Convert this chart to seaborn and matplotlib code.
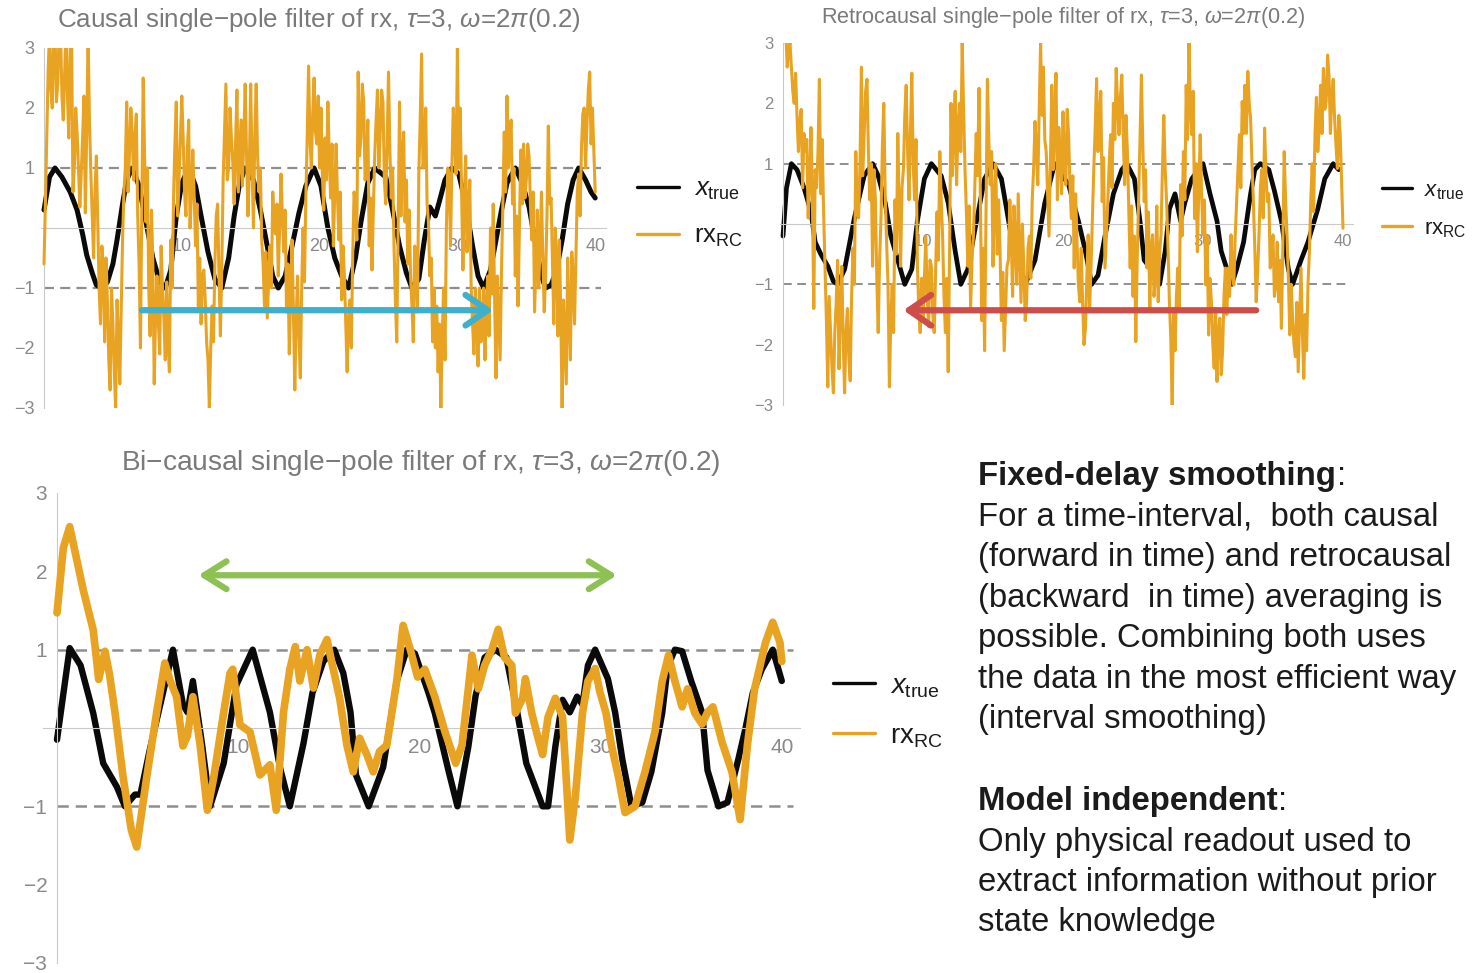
import numpy as np
import matplotlib
matplotlib.use("Agg")
import matplotlib.pyplot as plt
import seaborn as sns
from matplotlib.lines import Line2D

sns.set_theme(style="white")
plt.rcParams["font.family"] = ["Liberation Sans", "DejaVu Sans"]
plt.rcParams["mathtext.fontset"] = "custom"
plt.rcParams["mathtext.rm"] = "Liberation Sans"
plt.rcParams["mathtext.it"] = "Liberation Sans:italic"
plt.rcParams["mathtext.bf"] = "Liberation Sans:bold"
plt.rcParams["axes.unicode_minus"] = True

# ---------------------------------------------------------------- data
# common sample times of the noisy filtered readouts (step 0.1)
t_grid = np.round(np.arange(0, 40.001, 0.1), 1)

# causal single-pole filter of the readout
causal_rx = [
    -0.6, 0.4, 1.5, 2.6, 3.3, 2.3, 2.0, 3.3, 3.3, 2.1, 2.4, 3.3, 3.3, 2.2, 1.8, 2.6, 3.3, 2.2, 1.5, 3.0,
    3.3, 0.6, 1.0, 2.0, 1.6, 1.0, 0.35, 0.9, 1.5, 2.2, 0.25, 1.6, 3.2, 1.8, 0.9, 0.2, -0.5, 0.6, 1.2, 0.1,
    -1.0, -1.6, -0.3, -0.6, -1.9, -0.5, -1.2, -2.2, -2.7, -1.0, -1.6, -2.4, -3.0, -1.2, -1.8, -2.6, -1.4, -0.2, 0.6, 1.0,
    2.1, 0.6, 1.2, 2.0, 1.6, 0.8, 1.5, 1.9, 0.2, -0.6, -2.0, 0.4, 2.5, 1.2, 0.1, 1.0, -1.0, -1.8, 0.3, -0.6,
    -2.6, -1.4, -0.8, -1.6, -2.1, -0.3, -1.0, -1.5, -2.2, -0.9, -1.9, -2.4, -0.2, -1.0, 0.5, 1.4, 2.1, 0.2, 0.8, 1.5,
    2.2, 1.5, 0.6, 0.2, 1.3, 1.8, 0.0, 0.6, 1.3, 0.5, -0.3, 0.4, -1.3, -0.5, -1.6, -0.8, -0.7, -1.2, -1.9, -2.2,
    -3.0, -2.0, -1.3, -1.9, -0.6, 0.2, 0.4, -0.8, -1.8, -0.7, 0.8, 1.6, 2.4, 0.8, 1.0, 2.0, 1.5, 1.1, 0.4, 1.4,
    2.3, 0.6, 1.2, 1.8, 0.7, 1.5, 2.4, 1.2, 0.2, 1.0, 2.4, 1.0, 0.0, 1.6, 2.4, 1.2, 0.6, 1.0, -0.2, -0.6,
    -1.3, -0.4, -1.5, -0.9, -0.3, -1.0, 0.6, 0.1, -0.1, 0.4, -0.8, 0.0, 0.9, 0.2, -0.4, 0.3, -1.4, -0.6, -2.1, -1.1,
    -0.2, -1.4, -2.7, -1.5, -0.8, -1.8, -2.5, -1.0, 0.0, -0.9, 0.5, 1.5, 2.7, 1.5, 1.0, 1.9, 2.5, 1.6, 1.4, 2.2,
    1.0, 2.0, 0.9, 0.3, 1.5, 0.8, 2.1, 1.2, 0.5, 1.4, -0.3, 0.6, 1.4, 0.5, -0.2, 0.6, -1.2, -0.3, -0.8, -1.6,
    -2.4, -1.5, -1.2, -2.0, -0.5, 0.6, 0.4, -0.2, 2.6, 1.2, 1.5, 2.4, 2.1, 0.8, 1.0, 1.8, -0.3, 0.5, -0.7, 0.3,
    1.2, 1.8, 2.3, 1.0, 1.6, 2.3, 2.1, 0.8, 0.4, 1.4, 2.6, 1.3, 0.5, 1.0, -0.3, -1.2, -1.9, 0.0, 2.1, 0.2,
    1.2, 1.6, 0.1, 0.8, -0.6, 0.3, -0.8, -1.3, -1.9, -0.3, -0.5, -1.4, 0.9, 1.8, 2.9, 1.0, 1.2, 2.0, 0.4, 0.1,
    -0.8, -0.5, -1.9, -1.0, -2.0, -1.3, -2.4, -1.6, -3.0, -1.8, -1.0, -2.2, 0.0, 1.0, 0.9, -0.3, 1.0, 2.0, 1.5, 0.9,
    3.0, 1.0, 2.0, 0.6, -0.7, 0.5, 1.2, -0.4, 0.3, 0.8, -1.0, -1.6, -2.1, -1.0, -1.6, -2.3, -1.0, -1.9, -1.8, -1.0,
    -2.2, -1.3, -0.8, -1.8, 0.0, -1.1, 0.4, -1.2, -2.5, -0.8, -1.5, -2.2, -0.7, 0.4, 1.6, 0.6, 2.2, 1.0, 1.5, 1.8,
    0.4, 1.0, -0.8, 0.2, -1.3, 0.0, 1.3, 0.4, 1.4, 0.5, 0.8, 1.4, 1.2, 0.4, -0.2, 0.6, -1.4, -0.6, 0.3, -1.0,
    -0.3, 0.6, -0.5, -1.4, -0.8, 0.2, 1.7, 0.4, 0.5, -0.6, -1.6, 0.0, -0.5, -1.8, -0.2, -1.4, -3.0, -1.2, -1.9, -2.6,
    -0.5, -1.5, -2.2, -0.4, -0.8, -1.6, -0.5, 0.6, 0.9, 0.2, 1.3, 1.9, 2.0, 1.0, 1.7, 2.3, 2.6, 1.4, 2.0, 1.3,
    0.6,
]
causal_true_t = [0.0, 0.4, 0.8, 1.3, 1.9, 2.4, 2.8, 3.1, 3.5, 3.8, 4.2, 4.6, 5.0, 5.3,
                 5.7, 6.0, 6.4, 6.9, 7.4, 7.9, 8.4, 8.8, 9.2, 9.6, 10.0, 10.5, 11.0,
                 11.4, 11.9, 12.4, 12.9, 13.4, 13.8, 14.2, 14.6, 15.2, 15.7, 16.2,
                 16.6, 17.0, 17.5, 18.0, 18.5, 19.0, 19.6, 20.1, 20.6, 21.1, 21.6,
                 22.1, 22.6, 23.0, 23.5, 24.0, 24.8, 25.3, 25.8, 26.3, 26.7, 27.2,
                 27.6, 28.0, 28.4, 28.7, 29.1, 29.6, 30.1, 30.6, 31.1, 31.5, 31.9,
                 32.4, 32.8, 33.2, 33.6, 34.2, 34.7, 35.2, 35.7, 36.1, 36.4, 36.8,
                 37.2, 37.6, 38.0, 38.4, 38.8, 39.3, 39.7, 40.0]
causal_true_x = [0.3, 0.85, 1.0, 0.85, 0.6, 0.3, -0.1, -0.45, -0.75, -0.95, -1.0, -0.9,
                 -0.6, -0.2, 0.4, 0.8, 1.0, 0.7, 0.1, -0.5, -0.9, -1.0, -0.7, 0.2, 0.75,
                 1.0, 0.7, 0.2, -0.4, -0.85, -1.0, -0.5, 0.2, 0.75, 1.0, 0.8, 0.3, -0.3,
                 -0.8, -1.0, -0.8, -0.3, 0.25, 0.7, 1.0, 0.7, 0.0, -0.5, -0.8, -1.0,
                 -0.5, 0.1, 0.75, 1.0, 0.85, 0.3, -0.3, -0.75, -1.0, -0.85, -0.2, 0.35,
                 0.2, 0.45, 0.8, 1.0, 0.9, 0.4, -0.3, -0.8, -1.0, -0.7, -0.2, 0.3, 0.75,
                 1.0, 0.75, 0.35, -0.3, -0.8, -1.0, -0.95, -0.7, -0.2, 0.4, 0.8, 1.0,
                 0.8, 0.6, 0.5]

# retrocausal single-pole filter of the readout
retro_rx = [
    3.2, 3.3, 3.2, 2.6, 2.9, 3.0, 2.6, 2.2, 2.0, 2.5, 1.8, 1.2, 1.7, 1.9, 0.6, 1.5, 1.2, 1.4, 0.1, 0.7,
    1.6, 0.4, -1.4, 0.9, 0.6, 1.2, 2.4, 0.5, 1.4, 0.2, -0.7, -1.6, -2.7, -1.2, -1.8, -2.4, -2.8, -1.8, -1.3, -0.6,
    -2.4, -1.5, -0.7, -1.9, -2.8, -1.8, -1.4, -2.2, -2.6, -1.2, -0.4, -1.0, 1.2, 0.2, 0.1, 1.0, 2.6, 0.8, 1.5, 2.2,
    2.4, 1.2, 0.4, 1.0, -0.7, 0.9, 0.4, -0.9, -1.8, -0.6, 0.1, 1.3, 2.0, 0.5, -0.3, -1.0, -2.7, -1.6, -1.0, -1.8,
    0.4, -0.5, 1.5, 0.3, -0.7, 0.6, 0.9, 1.8, 2.3, 1.2, 0.4, 1.5, 2.5, 1.0, 0.4, 1.4, -0.7, -1.4, -1.8, -0.9,
    -1.6, -0.9, -0.2, -1.2, -1.7, -0.6, -0.7, -1.5, -1.8, -0.8, 0.2, -0.6, 1.2, 0.4, -0.2, -1.2, -1.8, -0.9, -2.45, -0.4,
    2.0, 0.8, 1.6, 2.2, 0.65, 1.6, 2.0, 1.2, 3.0, 1.9, 0.9, 0.2, -0.7, 0.3, -1.4, -0.6, -0.2, 0.6, 1.5, 0.8,
    2.25, 0.4, -1.6, -0.4, -2.1, 0.2, 2.4, 1.4, 0.65, 1.2, -0.7, 0.3, 1.0, -0.5, 0.4, -0.4, -1.6, -0.8, -2.1, -1.4,
    -0.7, -0.6, 0.4, -0.2, -1.2, 0.3, -0.3, -1.0, 0.5, -0.4, -1.3, 0.0, -0.7, -1.6, -1.3, -0.4, -0.2, -0.9, 0.4, 0.9,
    1.7, 1.2, 0.65, 1.9, 3.0, 1.8, 2.6, 1.4, 1.2, 0.5, -0.2, 1.0, 2.3, 0.9, 1.75, 2.5, 0.4, 1.6, 1.1, 0.5,
    1.86, 1.0, 0.65, 1.9, 1.48, 0.6, 0.09, 0.8, -0.73, 0.5, -0.29, -1.0, -1.29, -0.4, -1.29, -2.0, -1.73, -0.9, -0.18, -1.4,
    -0.73, 0.1, 0.92, 1.6, 2.41, 1.2, 1.75, 2.2, 0.37, 1.1, -0.73, -0.2, 0.37, 1.0, 1.48, 0.6, 2.0, 1.4, 2.58, 2.0,
    1.48, 2.1, 2.47, 1.5, 0.65, 1.8, 1.2, 0.2, -0.73, 0.3, -1.2, -0.2, -1.95, -0.6, 0.37, 1.4, 2.47, 1.3, 0.37, 0.9,
    -0.73, 0.2, -1.4, -0.4, -0.18, -1.2, -0.9, 0.3, -1.29, -0.5, -0.18, 0.9, 1.8, 0.9, 0.37, -0.4, -1.29, -1.9, -3.0, -1.4,
    -2.1, -1.2, -0.73, -1.4, 0.65, -0.2, 1.2, 0.4, 2.3, 1.4, 3.0, 1.9, 1.48, 2.2, 0.09, 1.0, -0.46, 0.6, 1.48, 0.5,
    -0.18, 0.4, -1.01, -0.2, -1.84, -0.9, -1.29, -2.0, -2.39, -1.4, -2.61, -1.8, -1.56, -2.5, -2.1, -1.2, -0.73, -1.5, -0.73, -1.2,
    -0.18, -0.8, -1.01, -0.2, 0.37, 0.9, 1.48, 0.6, 2.03, 1.5, 2.3, 1.5, 2.53, 2.0, 1.75, 1.0, 0.37, -0.4, -1.29, -0.8,
    -0.18, 0.6, 0.9, 0.1, 1.59, 0.8, 0.37, 0.5, -0.73, -0.6, -0.18, -1.2, -1.0, -0.3, -1.29, -0.6, -1.73, -0.4, 1.2, 0.4,
    -0.18, -0.9, -1.84, -1.0, -1.56, -2.0, -2.2, -1.3, -2.45, -1.6, -0.73, -1.8, -2.56, -1.5, -2.1, -1.0, -0.46, 0.4, 1.0, 0.2,
    1.48, 2.1, 1.2, 1.6, 2.3, 1.5, 2.58, 1.9, 2.03, 2.8, 2.47, 1.5, 2.1, 2.4, 1.75, 1.3, 0.92, 1.8, 1.48, 0.7,
    -0.07,
]
retro_true_t = [0.0, 0.25, 0.6, 1.0, 1.5, 2.0, 2.3, 2.7, 3.2, 3.6, 3.9, 4.4, 5.1, 5.8,
                6.4, 6.8, 7.3, 7.7, 8.2, 8.7, 9.2, 9.6, 10.1, 10.6, 11.3, 11.8, 12.3,
                12.7, 13.2, 13.7, 14.4, 15.0, 15.6, 16.3, 16.8, 17.3, 18.0, 18.7, 19.4,
                20.4, 21.1, 21.6, 22.05, 22.5, 23.0, 23.6, 24.2, 24.55, 25.1, 25.5,
                25.8, 26.3, 26.9, 27.3, 27.6, 28.0, 28.4, 28.7, 29.2, 30.0, 30.5, 31.0,
                31.3, 32.05, 32.4, 32.9, 33.4, 33.7, 34.1, 34.7, 35.1, 35.6, 36.1,
                36.4, 37.0, 37.5, 38.2, 38.7, 39.3, 39.7]
retro_true_x = [-0.2, 0.6, 1.0, 0.9, 0.6, 0.2, -0.3, -0.5, -0.7, -0.95, -1.0, -0.75,
                0.1, 0.8, 1.0, 0.8, 0.35, -0.2, -0.6, -1.0, -0.75, 0.05, 0.75, 1.0,
                0.8, 0.35, -0.45, -1.0, -0.75, -0.1, 0.75, 1.0, 0.75, -0.2, -0.6, -1.0,
                -0.6, 0.35, 1.0, 0.65, 0.05, -0.45, -1.0, -0.85, -0.2, 0.5, 0.9, 1.0,
                0.75, 0.05, -0.6, -0.75, -1.0, -0.45, 0.25, 0.5, 0.05, 0.35, 0.75, 1.0,
                0.5, 0.05, -0.45, -1.0, -0.75, -0.3, 0.5, 0.9, 1.0, 0.9, 0.55, 0.05,
                -0.75, -1.0, -0.6, -0.3, 0.25, 0.75, 1.0, 0.9]

# bi-causal (combined) single-pole filter of the readout
bicausal_rx_t = [0.0, 0.35, 0.7, 0.95, 1.45, 2.0, 2.3, 2.65, 2.9, 3.2, 3.65, 4.1, 4.4,
                 4.95, 5.5, 5.95, 6.25, 6.6, 6.95, 7.2, 7.5, 7.9, 8.3, 8.65, 9.2, 9.55,
                 9.7, 10.1, 10.65, 11.2, 11.75, 12.1, 12.5, 12.85, 13.15, 13.4, 13.8,
                 14.15, 14.5, 14.9, 15.2, 15.6, 16.0, 16.35, 16.7, 17.1, 17.45, 17.8,
                 18.2, 18.75, 19.1, 19.5, 19.9, 20.3, 20.85, 21.4, 22.0, 22.35, 22.7,
                 22.9, 23.25, 23.6, 24.0, 24.35, 24.7, 25.1, 25.3, 25.7, 25.85, 26.2,
                 26.55, 26.8, 27.1, 27.5, 27.9, 28.1, 28.3, 28.6, 29.0, 29.3, 29.7,
                 29.95, 30.3, 30.6, 31.0, 31.35, 31.9, 32.45, 33.0, 33.4, 33.75, 34.1,
                 34.5, 34.8, 35.2, 35.6, 35.9, 36.2, 36.7, 37.25, 37.7, 38.1, 38.5,
                 39.1, 39.5, 39.9, 40.0]
bicausal_rx = [1.47, 2.3, 2.57, 2.3, 1.76, 1.25, 0.62, 0.98, 0.68, 0.2, -0.63, -1.3,
               -1.52, -0.63, 0.2, 0.83, 0.6, 0.4, -0.23, -0.1, 0.4, -0.22, -1.05, -0.63,
               0.2, 0.7, 0.75, 0.04, -0.05, -0.6, -0.47, -1.05, 0.2, 0.75, 1.04, 0.6,
               1.0, 0.51, 0.93, 1.13, 0.8, 0.38, -0.22, -0.56, -0.13, -0.34, -0.56,
               -0.3, -0.22, 0.6, 1.31, 1.0, 0.65, 0.75, 0.4, -0.04, -0.45, -0.22, 0.5,
               0.93, 0.5, 0.8, 1.0, 1.26, 0.9, 0.8, 0.19, 0.38, 0.63, 0.19, -0.13,
               -0.34, 0.14, 0.38, 0.14, -0.63, -1.43, -0.89, 0.19, 0.6, 0.76, 0.47,
               0.19, -0.22, -0.64, -1.08, -1.0, -0.56, -0.05, 0.6, 0.93, 0.6, 0.27,
               0.5, 0.19, 0.05, 0.2, 0.27, -0.18, -0.56, -1.17, -0.22, 0.5, 1.09, 1.35,
               1.09, 0.85]
bicausal_true_t = [0.0, 0.7, 1.3, 2.0, 2.55, 3.3, 3.75, 4.3, 4.6, 5.1, 5.7, 6.4, 6.95,
                   7.2, 7.5, 8.0, 8.45, 9.2, 9.9, 10.8, 11.75, 12.3, 12.85, 13.6, 14.1,
                   14.7, 15.3, 15.8, 16.2, 16.5, 17.2, 18.0, 18.75, 19.3, 19.75, 20.5,
                   20.85, 21.6, 22.1, 22.7, 23.1, 23.6, 24.2, 24.8, 25.4, 25.9, 26.8,
                   27.1, 27.5, 27.9, 28.3, 28.7, 29.0, 29.3, 29.7, 30.4, 30.8, 31.2,
                   31.7, 32.3, 32.8, 33.4, 33.7, 34.1, 34.5, 35.0, 35.6, 35.9, 36.5,
                   37.0, 37.6, 38.0, 38.4, 38.9, 39.5, 40.0]
bicausal_true_x = [-0.15, 1.02, 0.8, 0.19, -0.45, -0.75, -1.0, -0.85, -0.85, -0.3, 0.3,
                   1.0, 0.3, 0.2, 0.6, -0.2, -1.0, -0.45, 0.55, 1.0, 0.2, -0.5, -1.0,
                   -0.2, 0.45, 0.85, 1.0, 0.7, 0.2, -0.6, -1.0, -0.5, 0.6, 1.0, 0.95,
                   0.45, 0.19, -0.54, -1.0, -0.24, 0.41, 0.9, 1.0, 0.9, 0.2, -0.45, -1.0,
                   -1.0, -0.24, 0.36, 0.2, 0.4, 0.3, 0.8, 1.0, 0.63, 0.2, -0.4, -1.0,
                   -0.95, -0.56, 0.19, 0.78, 1.0, 0.98, 0.6, 0.2, -0.54, -1.0, -0.95,
                   -0.4, 0.0, 0.45, 0.75, 1.0, 0.6]

y_ticks = [-3, -2, -1, 1, 2, 3]
x_ticks = [10, 20, 30, 40]
legend_labels = [r"$x_{\mathrm{true}}$", r"rx$_{\mathrm{RC}}$"]
titles = [
    r"Causal single−pole filter of rx, $\tau$=3, $\omega$=2$\pi$(0.2)",
    r"Retrocausal single−pole filter of rx, $\tau$=3, $\omega$=2$\pi$(0.2)",
    r"Bi−causal single−pole filter of rx, $\tau$=3, $\omega$=2$\pi$(0.2)",
]

# ---------------------------------------------------------------- style
ORANGE = "#E9A322"
BLACK = "#0a0a0a"
GRID_GREY = "#8e8e8e"
AXIS_GREY = "#c9c9c9"
LABEL_GREY = "#8a8a8a"
TITLE_GREY = "#7a7a7a"
TEXT = "#1b1b1b"

W, H = 1472, 973
fig = plt.figure(figsize=(W / 100, H / 100), dpi=100)


def fx(p):
    return p / W


def fy(p):
    return 1 - p / H


def add_panel(x_origin, x_scale, y_top, y_bottom):
    xmin, xmax = -1.0, 41.2
    left = x_origin + xmin * x_scale
    right = x_origin + xmax * x_scale
    ax = fig.add_axes([fx(left), fy(y_bottom), (right - left) / W, (y_bottom - y_top) / H])
    ax.set_xlim(xmin, xmax)
    ax.set_ylim(-3, 3)
    return ax


def decorate(ax, tick_size, dash_lw, x_end, axis_start):
    ax.set_facecolor("none")
    for s in ["top", "right"]:
        ax.spines[s].set_visible(False)
    ax.spines["left"].set_position(("data", 0))
    ax.spines["bottom"].set_position(("data", 0))
    ax.spines["bottom"].set_bounds(axis_start, x_end + 0.4)
    for s in ["left", "bottom"]:
        ax.spines[s].set_color(AXIS_GREY)
        ax.spines[s].set_linewidth(0.8)
    ax.set_xticks(x_ticks)
    ax.set_yticks(y_ticks)
    ax.set_xticks(np.arange(2, 41, 2), minor=True)
    ax.set_yticks(np.arange(-2.8, 3.0, 0.2), minor=True)
    ax.set_xticklabels([str(v) for v in x_ticks])
    ax.set_yticklabels([f"{v}".replace("-", "\u2212") for v in y_ticks])
    ax.tick_params(axis="both", which="major", direction="in", length=4, width=0.6,
                   color=AXIS_GREY, labelcolor=LABEL_GREY, labelsize=tick_size, pad=7)
    ax.tick_params(axis="both", which="minor", direction="in", length=2, width=0.5,
                   color=AXIS_GREY)
    ax.hlines([1, -1], 0, x_end, colors=GRID_GREY, lw=dash_lw,
              linestyles=[(0, (4.5, 2.8))], zorder=1)


def draw_series(ax, t_true, x_true, t_rx, rx, lw_true, lw_rx):
    sns.lineplot(x=t_true, y=x_true, ax=ax, color=BLACK, linewidth=lw_true,
                 sort=False, estimator=None, zorder=2)
    sns.lineplot(x=t_rx, y=rx, ax=ax, color=ORANGE, linewidth=lw_rx,
                 sort=False, estimator=None, zorder=3)


def add_legend(ax, x_px, y_px, size, handle_len, pad, spacing):
    handles = [Line2D([], [], color=BLACK, lw=2.4), Line2D([], [], color=ORANGE, lw=2.4)]
    ax.legend(handles, legend_labels, loc="upper left",
              bbox_to_anchor=(fx(x_px), fy(y_px)), bbox_transform=fig.transFigure,
              frameon=False, fontsize=size, handlelength=handle_len,
              handletextpad=pad, labelspacing=spacing, borderpad=0, borderaxespad=0,
              labelcolor=TEXT)


# causal panel
ax1 = add_panel(44, 13.78, 48, 408)
decorate(ax1, 13, 1.6, 40.4, -0.2)
draw_series(ax1, causal_true_t, causal_true_x, t_grid, causal_rx, 3.6, 2.2)
ax1.annotate("", xy=(32.6, -1.37), xytext=(7.1, -1.37),
             arrowprops=dict(arrowstyle="->,head_length=0.8,head_width=0.55",
                             color="#3FB0CC", lw=4.5, mutation_scale=20,
                             shrinkA=0, shrinkB=0), zorder=5)
add_legend(ax1, 637, 177, 18.5, 1.63, 0.58, 0.85)
fig.text(fx(319), fy(20), titles[0], ha="center", va="center", color=TITLE_GREY, fontsize=18.7)

# retrocausal panel
ax2 = add_panel(783, 14.0, 43, 405)
decorate(ax2, 12, 1.4, 40.3, -0.2)
draw_series(ax2, retro_true_t, retro_true_x, t_grid, retro_rx, 3.4, 2.2)
ax2.annotate("", xy=(8.6, -1.43), xytext=(33.8, -1.43),
             arrowprops=dict(arrowstyle="->,head_length=0.8,head_width=0.55",
                             color="#CC4D4A", lw=4.5, mutation_scale=20,
                             shrinkA=0, shrinkB=0), zorder=5)
add_legend(ax2, 1382, 180, 16, 1.35, 0.54, 0.74)
fig.text(fx(1063), fy(18), titles[1], ha="center", va="center", color=TITLE_GREY, fontsize=15.6)

# bi-causal panel
ax3 = add_panel(57, 18.12, 493, 963)
decorate(ax3, 15, 1.8, 40.6, -0.8)
draw_series(ax3, bicausal_true_t, bicausal_true_x, bicausal_rx_t, bicausal_rx, 4.6, 5.5)
ax3.annotate("", xy=(30.9, 1.95), xytext=(7.8, 1.95),
             arrowprops=dict(arrowstyle="<->,head_length=0.8,head_width=0.5",
                             color="#8DC153", lw=4.5, mutation_scale=20,
                             shrinkA=0, shrinkB=0), zorder=5)
add_legend(ax3, 833, 673, 20, 1.5, 0.54, 0.85)
fig.text(fx(421), fy(463), titles[2], ha="center", va="center", color=TITLE_GREY, fontsize=20.2)

# explanatory text block
lines = [
    ("Fixed-delay smoothing", True, 485),
    ("For a time-interval,  both causal", False, 525),
    ("(forward in time) and retrocausal", False, 566),
    ("(backward  in time) averaging is", False, 607),
    ("possible. Combining both uses", False, 647),
    ("the data in the most efficient way", False, 688),
    ("(interval smoothing)", False, 728),
    ("Model independent", True, 810),
    ("Only physical readout used to", False, 851),
    ("extract information without prior", False, 891),
    ("state knowledge", False, 931),
]
renderer = fig.canvas.get_renderer()
for txt, bold, base in lines:
    t = fig.text(fx(978), fy(base), txt, ha="left", va="baseline", fontsize=23.7,
                 color=TEXT, fontweight="bold" if bold else "normal")
    if bold:
        bb = t.get_window_extent(renderer=renderer)
        fig.text(bb.x1 / W + 0.0005, fy(base), ":", ha="left", va="baseline",
                 fontsize=23.7, color=TEXT)

fig.savefig("out.png", dpi=100)
